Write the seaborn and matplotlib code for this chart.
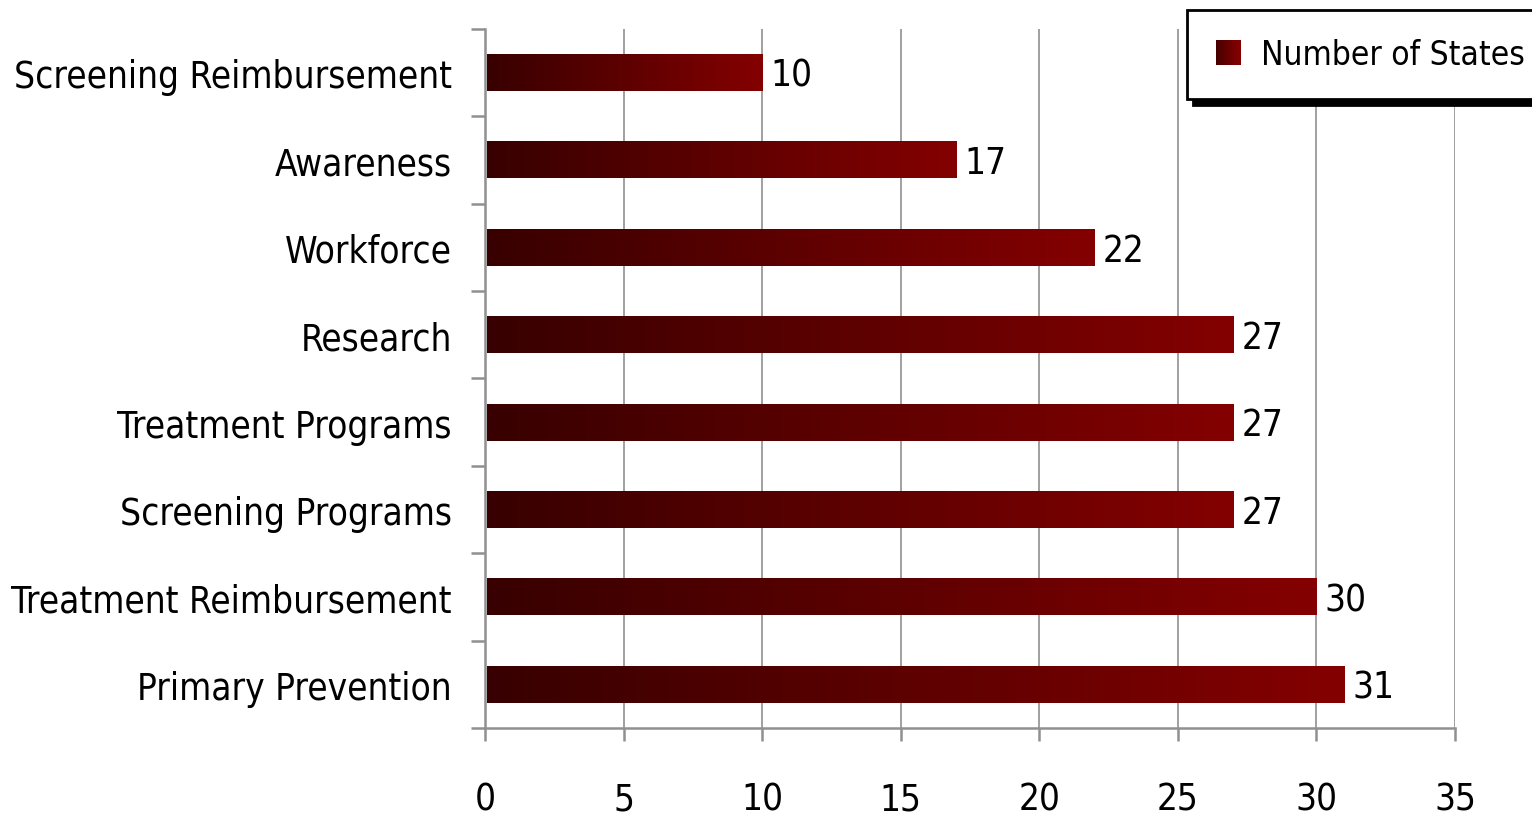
import numpy as np
import pandas as pd
import matplotlib
matplotlib.use("Agg")
import matplotlib.pyplot as plt
import seaborn as sns
from matplotlib.colors import LinearSegmentedColormap
from matplotlib.patches import Patch, Rectangle
from matplotlib.legend_handler import HandlerBase

categories = ["Screening Reimbursement", "Awareness", "Workforce", "Research",
              "Treatment Programs", "Screening Programs", "Treatment Reimbursement",
              "Primary Prevention"]
states = [10, 17, 22, 27, 27, 27, 30, 31]
x_ticks = [0, 5, 10, 15, 20, 25, 30, 35]

sns.set_theme(style="white")
plt.rcParams['font.family'] = ['DejaVu Sans']
plt.rcParams['font.stretch'] = 'condensed'
plt.rcParams['text.color'] = 'black'
plt.rcParams['xtick.labelcolor'] = 'black'
plt.rcParams['ytick.labelcolor'] = 'black'

df = pd.DataFrame({'category': categories, 'states': states})
grad = LinearSegmentedColormap.from_list("grad", ["#380000", "#840000"])


class GradHandler(HandlerBase):
    # legend key drawn as thin strips to fake the gradient
    def create_artists(self, legend, orig_handle, xdescent, ydescent,
                       width, height, fontsize, trans):
        n = 12
        arts = []
        for k in range(n):
            r = Rectangle((-xdescent + k * width / n, -ydescent), width / n + 0.3, height,
                          facecolor=grad(0.2 + 0.8 * k / (n - 1)), edgecolor='none',
                          transform=trans)
            arts.append(r)
        return arts


fig = plt.figure(figsize=(15.32, 8.2), dpi=100)
ax = fig.add_axes([0.3166, 0.111, 0.6331, 0.8524])

sns.barplot(data=df, y='category', x='states', orient='h', width=0.42,
            color="#6a0000", ax=ax, zorder=2)

# gradient fill on each bar
g = np.linspace(0, 1, 256).reshape(1, -1)
for p in ax.patches:
    x0, y0 = p.get_x(), p.get_y()
    w, h = p.get_width(), p.get_height()
    ax.imshow(g, cmap=grad, extent=[x0 + 0.07, x0 + w, y0 + h, y0],
              aspect='auto', zorder=3, interpolation='bilinear')
    p.set_visible(False)

ax.set_xlim(0, 35)
ax.set_ylim(len(categories) - 0.5, -0.5)
ax.set_xticks(x_ticks)
ax.set_xlabel("")
ax.set_ylabel("")
ax.grid(axis='x', color='#909090', linewidth=1.2, zorder=0)
ax.set_axisbelow(True)

for s in ['top', 'right']:
    ax.spines[s].set_visible(False)
for s in ['left', 'bottom']:
    ax.spines[s].set_color('#909090')
    ax.spines[s].set_linewidth(1.8)

ax.tick_params(axis='x', length=9, width=1.8, color='#909090', direction='out',
               labelsize=26.5, pad=29, bottom=True)
ax.tick_params(axis='y', length=0, labelsize=26.5, pad=24)
ax.set_yticks(np.arange(-0.5, len(categories), 1), minor=True)
ax.tick_params(axis='y', which='minor', length=10, width=1.8, color='#909090',
               direction='out', left=True)

for i, v in enumerate(states):
    ax.text(v + 0.3, i + 0.03, str(v), va='center', ha='left', fontsize=26.5, color='black')

key = Patch(facecolor="#6a0000", label="Number of States")
leg = fig.legend(handles=[key], handler_map={Patch: GradHandler()},
                 loc='upper left', bbox_to_anchor=(0.775, 0.987),
                 fontsize=24, frameon=True, fancybox=False,
                 shadow={'color': 'black', 'alpha': 1.0, 'ox': 4, 'oy': -4},
                 handlelength=0.75, handleheight=0.75, handletextpad=0.6,
                 borderpad=0.85, borderaxespad=0)
leg.get_frame().set_edgecolor('black')
leg.get_frame().set_linewidth(2)

fig.savefig("out.png", dpi=100)
